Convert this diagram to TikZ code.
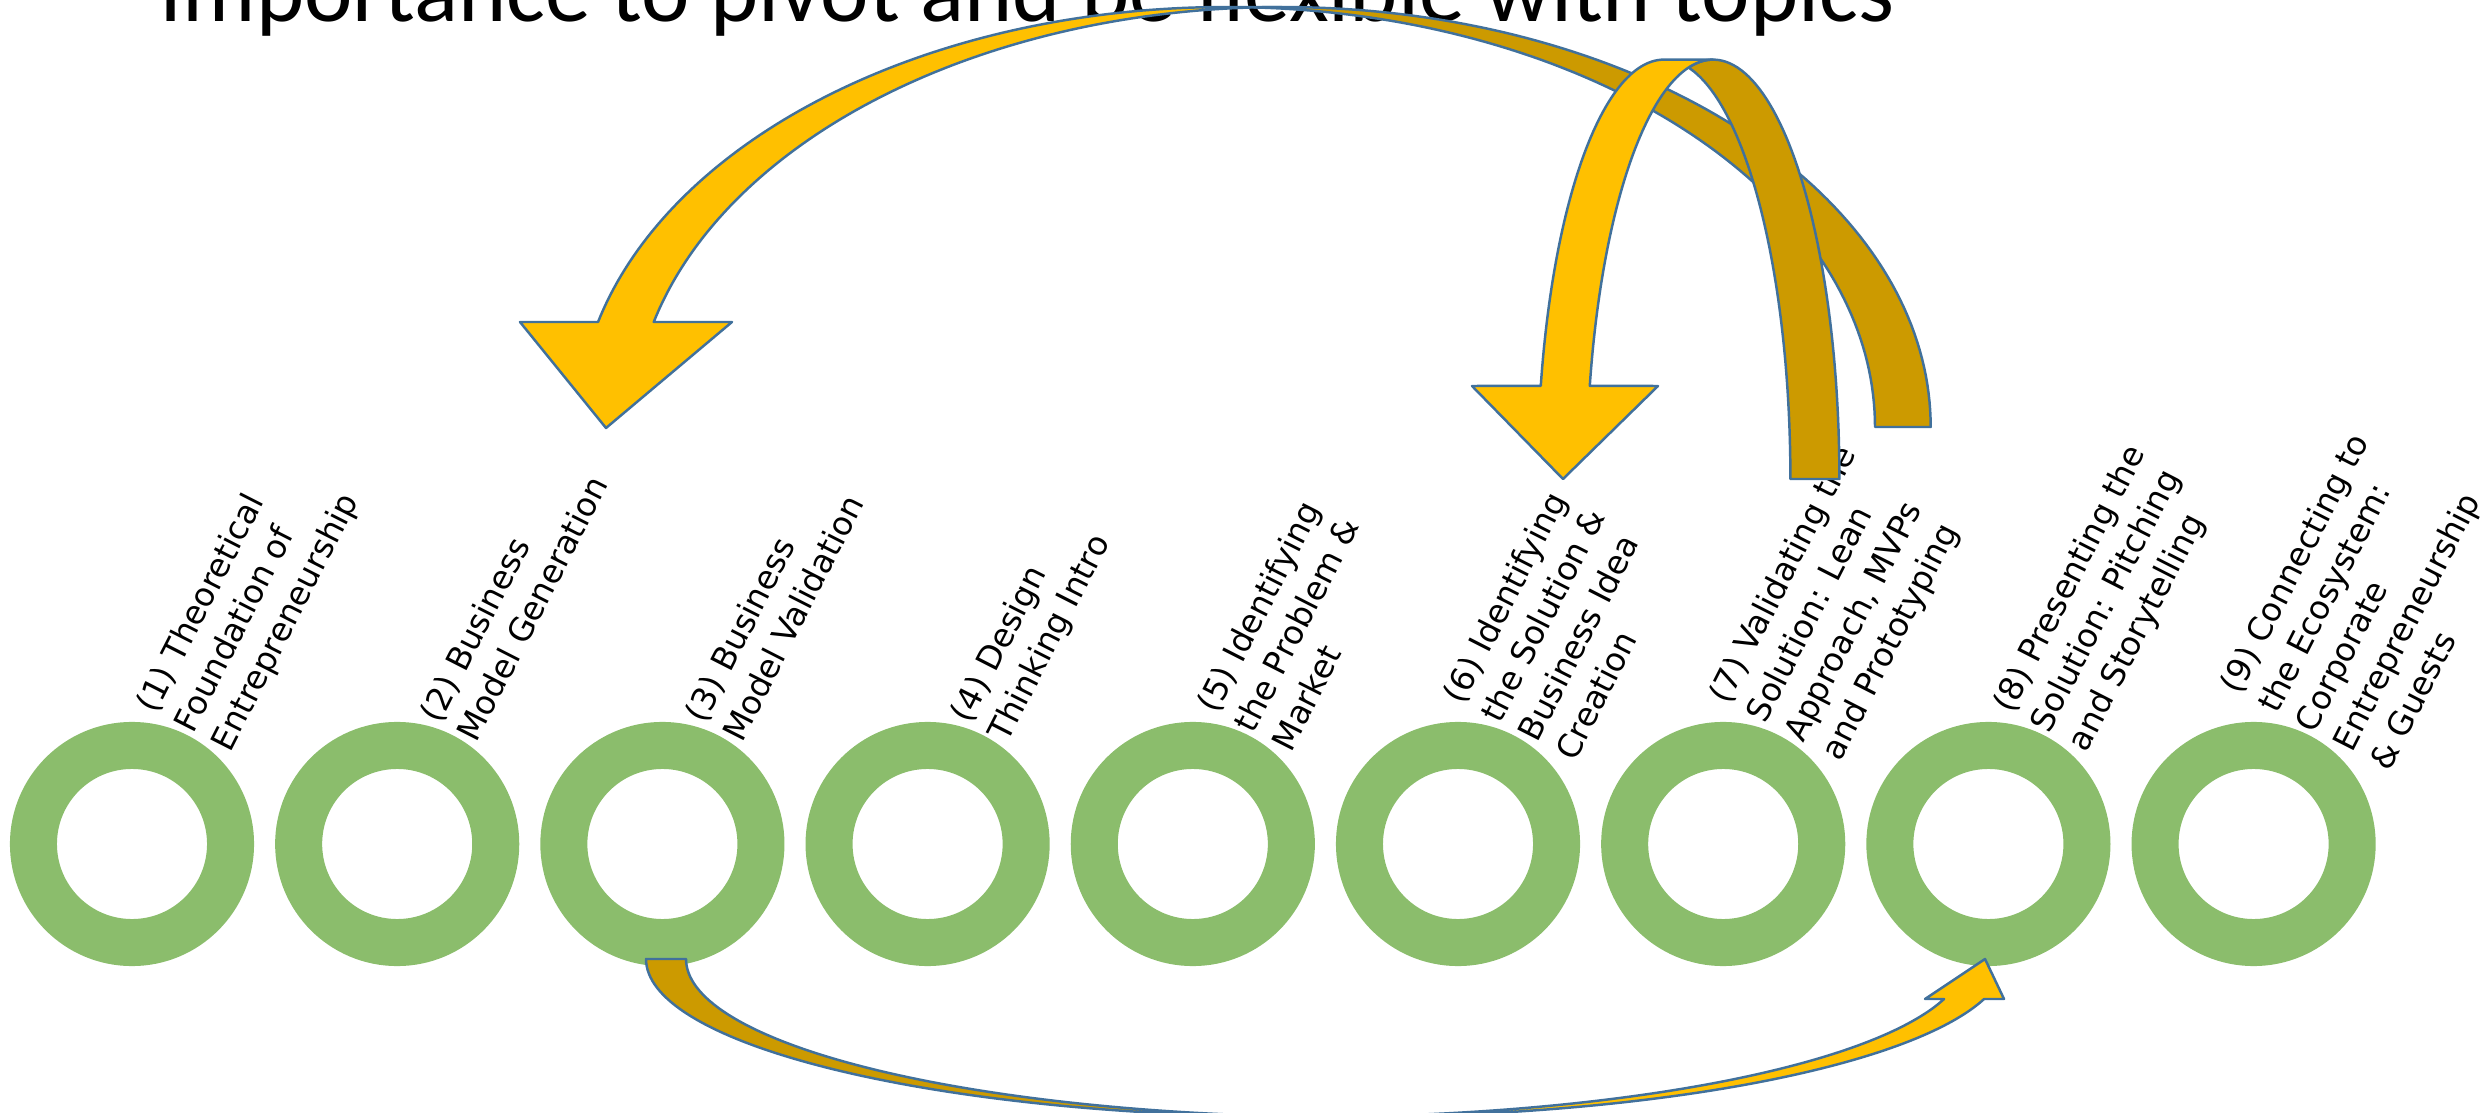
\documentclass[tikz,border=0pt]{standalone}
\usepackage{fontspec}
\newfontfamily\lblfont{DejaVu Sans}
\newfontfamily\ttlfont{Carlito}
\definecolor{ringgreen}{RGB}{139,189,108}
\definecolor{arrowyellow}{RGB}{255,192,0}
\definecolor{arrowdark}{RGB}{204,154,0}
\definecolor{arrowline}{RGB}{65,113,156}
\begin{document}
\begin{tikzpicture}[x=0.01cm,y=-0.01cm,
  ring/.style={circle,draw=ringgreen,line width=0.47cm,minimum size=1.97cm,inner sep=0pt,outer sep=0pt},
  lbl/.style={rotate=63,anchor=north west,align=left,inner sep=0pt,outer sep=0pt,
    font=\lblfont\fontsize{9.3pt}{11.95pt}\selectfont},
  arrowfront/.style={fill=arrowyellow,draw=arrowline,line width=0.7pt,line join=round},
  arrowback/.style={fill=arrowdark,draw=arrowline,line width=0.7pt,line join=round}]
\useasboundingbox (0,0) rectangle (2491,1113);
\clip (0,0) rectangle (2491,1113);

% title (top clipped as in the reference)
\node[anchor=base west,inner sep=0pt,font=\ttlfont\fontsize{26.1pt}{30pt}\selectfont] (title) at (159,21.7)
  {Importance to pivot and be flexible with topics};

% circles
\foreach \i in {1,...,9}{
  \node[ring] (c\i) at ({132+265.2*(\i-1)},844) {};
}

% labels
\node[lbl] (l1) at ([shift={(1.5,-140.3)}]c1.center) {(1) Theoretical\\Foundation of\\Entrepreneurship};
\node[lbl] (l2) at ([shift={(20.2,-130.8)}]c2.center) {(2) Business\\Model Generation};
\node[lbl] (l3) at ([shift={(20.2,-130.8)}]c3.center) {(3) Business\\Model Validation};
\node[lbl] (l4) at ([shift={(20.2,-130.8)}]c4.center) {(4) Design\\Thinking Intro};
\node[lbl] (l5) at ([shift={(1.5,-140.3)}]c5.center) {(5) Identifying\\the Problem \&\\Market};
\node[lbl] (l6) at ([shift={(-17.2,-149.9)}]c6.center) {(6) Identifying\\the Solution \&\\Business Idea\\Creation};
\node[lbl] (l7) at ([shift={(-17.2,-149.9)}]c7.center) {(7) Validating the\\Solution: Lean\\Approach, MVPs\\and Prototyping};
\node[lbl] (l8) at ([shift={(1.5,-140.3)}]c8.center) {(8) Presenting the\\Solution: Pitching\\and Storytelling};
\node[lbl] (l9) at ([shift={(-35.9,-159.4)}]c9.center) {(9) Connecting to\\the Ecosystem:\\Corporate\\Entrepreneurship\\\& Guests};

% bottom arrow: (3) -> (8)
\path[arrowback] plot[domain=88.26:180,samples=70] ({1305.8+659.8*cos(\x)},{959+158*sin(\x)})
  -- plot[domain=180:91.74,samples=70] ({1345.8+659.8*cos(\x)},{959+158*sin(\x)}) -- cycle;
\path[arrowfront] plot[domain=14.67:90,samples=70] ({1305.8+659.8*cos(\x)},{959+158*sin(\x)})
  -- plot[domain=90:14.67,samples=70] ({1345.8+659.8*cos(\x)},{959+158*sin(\x)})
  -- (2004,999) -- (1985,959) -- (1925,999) -- cycle;

% big arrow: (7) -> (2)
\path[arrowback] plot[domain=92.46:0,samples=80] ({1281.9+648.8*cos(\x)},{427-420*sin(\x)})
  -- plot[domain=0:87.54,samples=80] ({1226.2+648.8*cos(\x)},{427-420*sin(\x)}) -- cycle;
\path[arrowfront] plot[domain=165.52:90,samples=80] ({1226.2+648.8*cos(\x)},{427-420*sin(\x)})
  -- plot[domain=90:165.52,samples=80] ({1281.9+648.8*cos(\x)},{427-420*sin(\x)})
  -- (732,322) -- (606,428) -- (520,322) -- cycle;

% small arrow: (7) -> (6)
\path[arrowback] plot[domain=101.18:0,samples=60] ({1713+126.4*cos(\x)},{479-419.4*sin(\x)})
  -- plot[domain=0:78.82,samples=60] ({1664+126.4*cos(\x)},{479-419.4*sin(\x)}) -- cycle;
\path[arrowfront] plot[domain=167.16:90,samples=60] ({1664+126.4*cos(\x)},{479-419.4*sin(\x)})
  -- plot[domain=90:167.16,samples=60] ({1713+126.4*cos(\x)},{479-419.4*sin(\x)})
  -- (1658,386) -- (1563,479) -- (1472,386) -- cycle;
\end{tikzpicture}
\end{document}
